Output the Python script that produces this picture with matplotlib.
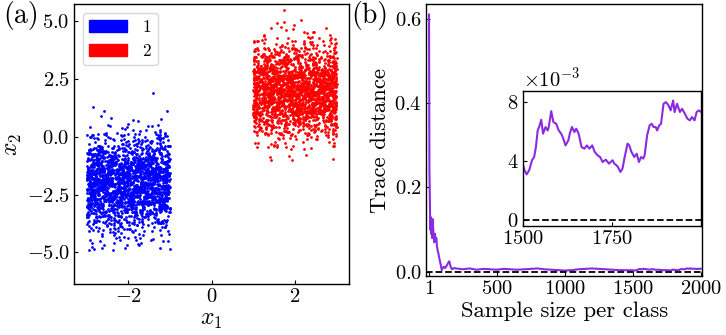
import numpy as np
import matplotlib
matplotlib.use("Agg")
import matplotlib.pyplot as plt
from matplotlib.patches import Patch

plt.rcParams["font.family"] = "cmr10"
plt.rcParams["mathtext.fontset"] = "cm"
plt.rcParams["axes.formatter.use_mathtext"] = True
plt.rcParams["axes.unicode_minus"] = True

# panel (a): two classes, x uniform in a band, y gaussian
class_labels = ["1", "2"]
class_colors = ["#0000ff", "#ff0000"]
x_ranges = [(-3.0, -1.0), (1.0, 3.0)]
y_means = [-2.0, 2.0]
y_stds = [1.0, 1.0]
n_per_class = 2000

# panel (b): trace distance vs sample size
n_head = [1, 2, 4, 6, 8, 10, 13, 16, 20, 24, 28, 32, 36, 40, 45, 50, 55, 60, 65,
          70, 75, 80, 85, 90, 95, 100, 110, 120, 130, 140, 150, 160, 170, 185,
          200, 250, 300, 350, 400, 450, 500, 550, 600, 650, 700, 750, 800, 850,
          900, 950, 1000, 1050, 1100, 1150, 1200, 1250, 1300, 1350, 1400, 1450]
d_head = [0.61, 0.45, 0.24, 0.20, 0.14, 0.10, 0.13, 0.09, 0.12, 0.08, 0.125,
          0.10, 0.085, 0.07, 0.09, 0.075, 0.08, 0.06, 0.05, 0.044, 0.035, 0.028,
          0.02, 0.012, 0.004, 0.008, 0.012, 0.009, 0.014, 0.02, 0.025, 0.012,
          0.006, 0.009, 0.008, 0.006, 0.008, 0.005, 0.007, 0.006, 0.005, 0.007,
          0.006, 0.005, 0.006, 0.007, 0.008, 0.006, 0.005, 0.004, 0.003, 0.004,
          0.006, 0.007, 0.008, 0.007, 0.006, 0.005, 0.004, 0.004]

# tail 1500..2000 in units of 1e-3 (from the inset)
n_tail = [1500, 1505, 1511, 1518, 1526, 1532, 1537, 1542, 1546, 1552, 1557,
          1564, 1570, 1573, 1580, 1586, 1594, 1601, 1608, 1614, 1620, 1628,
          1632, 1638, 1645, 1650, 1657, 1665, 1673, 1680, 1687, 1695, 1702,
          1710, 1717, 1724, 1733, 1742, 1752, 1757, 1763, 1767, 1774, 1780,
          1786, 1794, 1799, 1805, 1813, 1820, 1826, 1832, 1838, 1842, 1849,
          1856, 1862, 1867, 1873, 1877, 1883, 1888, 1895, 1902, 1909, 1915,
          1922, 1926, 1933, 1941, 1947, 1955, 1962, 1969, 1975, 1982, 1988,
          1994, 2000]
d_tail = [3.81, 3.36, 3.09, 3.36, 4.04, 4.26, 4.93, 6.05, 6.28, 6.77, 5.83,
          6.28, 6.05, 6.28, 7.35, 6.61, 6.50, 6.05, 5.83, 5.49, 5.04, 5.38,
          5.83, 6.28, 5.94, 6.17, 5.83, 4.93, 4.82, 5.04, 4.82, 5.04, 4.60,
          4.37, 4.26, 3.92, 4.08, 3.81, 4.04, 3.81, 3.70, 3.59, 3.25, 3.48,
          4.26, 5.16, 5.04, 4.60, 4.26, 4.48, 3.92, 4.26, 4.15, 4.37, 5.72,
          6.39, 6.50, 6.28, 6.28, 6.05, 6.39, 6.50, 7.85, 7.96, 7.74, 7.40,
          8.07, 7.29, 7.85, 7.29, 7.51, 7.17, 6.84, 6.73, 6.95, 6.73, 7.29,
          7.40, 7.30]

n_all = np.array(n_head + n_tail)
d_all = np.array(d_head + [v * 1e-3 for v in d_tail])

purple = "#8a2be2"
fs = 14.8

fig = plt.figure(figsize=(7.26, 3.35), dpi=100)

# (a) scatter
ax1 = fig.add_axes([0.102, 0.152, 0.379, 0.836])
rng = np.random.default_rng(3)
for lab, col, xr, mu, sd in zip(class_labels, class_colors, x_ranges, y_means, y_stds):
    xs = rng.uniform(xr[0], xr[1], n_per_class)
    ys = rng.normal(mu, sd, n_per_class)
    ax1.scatter(xs, ys, s=4, c=col, linewidths=0)
ax1.set_xlim(-3.3, 3.3)
ax1.set_ylim(-6.37, 5.75)
ax1.set_xticks([-2, 0, 2])
ax1.set_yticks([-5.0, -2.5, 0.0, 2.5, 5.0])
ax1.set_xlabel(r"$x_1$", fontsize=17, labelpad=2)
ax1.set_ylabel(r"$x_2$", fontsize=17, labelpad=2)
handles = [Patch(color=c, label=l) for c, l in zip(class_colors, class_labels)]
ax1.legend(handles=handles, loc="upper left", fontsize=12.3, handlelength=2.2,
           handleheight=0.7, borderpad=0.4, labelspacing=0.5, handletextpad=0.9)

# (b) trace distance
ax2 = fig.add_axes([0.587, 0.176, 0.380, 0.812])
ax2.plot(n_all, d_all, color=purple, lw=1.5)
ax2.axhline(0, color="black", ls="--", lw=1.3)
ax2.set_xlim(-20, 2010)
ax2.set_ylim(-0.01, 0.635)
ax2.set_xticks([1, 500, 1000, 1500, 2000])
ax2.set_yticks([0.0, 0.2, 0.4, 0.6])
ax2.set_xlabel("Sample size per class", fontsize=16.4, labelpad=2)
ax2.set_ylabel("Trace distance", fontsize=16.4, labelpad=3)

# inset
axin = fig.add_axes([0.720, 0.325, 0.2455, 0.403])
axin.plot(n_all, d_all, color=purple, lw=1.5)
axin.axhline(0, color="black", ls="--", lw=1.3)
axin.set_xlim(1500, 2000)
axin.set_ylim(-0.0004, 0.0087)
axin.set_xticks([1500, 1750])
axin.set_yticks([0.0, 0.004, 0.008])
axin.ticklabel_format(axis="y", style="sci", scilimits=(0, 0), useMathText=True)
axin.yaxis.get_offset_text().set_fontsize(fs)

for ax in (ax1, ax2, axin):
    ax.tick_params(direction="in", labelsize=fs, length=3, width=0.8, pad=3)
    for sp in ax.spines.values():
        sp.set_linewidth(1.0)

fig.text(0.005, 0.955, "(a)", fontsize=20, va="center")
fig.text(0.484, 0.955, "(b)", fontsize=20, va="center")

fig.savefig("out.png", dpi=100)
